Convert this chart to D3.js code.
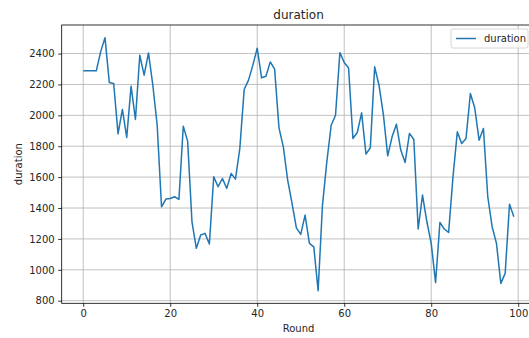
<!DOCTYPE html>
<meta charset="utf-8">
<script src="https://d3js.org/d3.v7.min.js"></script>
<style>
    body { margin: 0; background: #fff; }
    text { font-family: "DejaVu Sans", sans-serif; fill: #262626; }
    .grid line { stroke: #b0b0b0; stroke-width: 0.8; }
</style>
<body>
<svg id="chart" width="529" height="338"></svg>
<script>
// values (one per round, 0..99)
var rounds = d3.range(100);
var duration = [
  2288, 2288, 2288, 2288, 2411, 2503, 2212, 2206, 1880, 2038,
  1857, 2189, 1973, 2389, 2260, 2404, 2195, 1936, 1408, 1458,
  1462, 1473, 1456, 1930, 1833, 1311, 1139, 1225, 1236, 1167,
  1602, 1538, 1591, 1527, 1624, 1587, 1786, 2167, 2228, 2325,
  2435, 2243, 2253, 2346, 2299, 1919, 1796, 1581, 1430, 1272,
  1229, 1354, 1171, 1149, 865, 1419, 1699, 1936, 2001, 2406,
  2342, 2307, 1850, 1889, 2016, 1749, 1790, 2314, 2195, 2005,
  1738, 1861, 1943, 1775, 1695, 1883, 1844, 1264, 1484, 1311,
  1171, 917, 1307, 1264, 1242, 1600, 1893, 1818, 1850, 2141,
  2049, 1839, 1915, 1473, 1279, 1171, 912, 977, 1425, 1343
];
var yTicks = [800, 1000, 1200, 1400, 1600, 1800, 2000, 2200, 2400];
var xTicks = [0, 20, 40, 60, 80, 100];

var svg = d3.select("#chart");
var plotL = 61.7, plotR = 535.4, plotT = 25, plotB = 303.3;

// matplotlib-like 5% margins
function pad(ext) {
  var m = (ext[1] - ext[0]) * 0.05;
  return [ext[0] - m, ext[1] + m];
}

var x = d3.scaleLinear().domain(pad(d3.extent(rounds))).range([plotL, plotR]);
var y = d3.scaleLinear().domain(pad(d3.extent(duration))).range([plotB, plotT]);

// grid
var grid = svg.append("g").attr("class", "grid");
grid.selectAll(".gx").data(xTicks).enter().append("line")
  .attr("x1", d => x(d)).attr("x2", d => x(d))
  .attr("y1", plotT).attr("y2", plotB);
grid.selectAll(".gy").data(yTicks).enter().append("line")
  .attr("x1", plotL).attr("x2", plotR)
  .attr("y1", d => y(d)).attr("y2", d => y(d));

// axes
var xAxis = svg.append("g")
  .attr("transform", "translate(0," + plotB + ")")
  .call(d3.axisBottom(x).tickValues(xTicks).tickFormat(d3.format("d"))
    .tickSize(3.5).tickPadding(3.5).tickSizeOuter(0));
var yAxis = svg.append("g")
  .attr("transform", "translate(" + plotL + ",0)")
  .call(d3.axisLeft(y).tickValues(yTicks).tickFormat(d3.format("d"))
    .tickSize(3.5).tickPadding(3.5).tickSizeOuter(0));
[xAxis, yAxis].forEach(function (a) {
  a.selectAll("text").style("font-size", "10px").style("font-family", "DejaVu Sans").attr("fill", "#262626");
  a.selectAll("line").attr("stroke", "#000").attr("stroke-width", 0.8);
  a.select(".domain").remove();
});

// frame
svg.append("rect")
  .attr("x", plotL).attr("y", plotT)
  .attr("width", plotR - plotL).attr("height", plotB - plotT)
  .attr("fill", "none").attr("stroke", "#000").attr("stroke-width", 0.8);

// line
var line = d3.line().x((d, i) => x(rounds[i])).y(d => y(d));
svg.append("path")
  .datum(duration)
  .attr("d", line)
  .attr("fill", "none")
  .attr("stroke", "#1f77b4")
  .attr("stroke-width", 1.5)
  .attr("stroke-linejoin", "round");

// title and labels
svg.append("text")
  .attr("x", (plotL + plotR) / 2).attr("y", 19)
  .attr("text-anchor", "middle")
  .style("font-size", "12px")
  .text("duration");
svg.append("text")
  .attr("x", (plotL + plotR) / 2).attr("y", 332)
  .attr("text-anchor", "middle")
  .style("font-size", "10px")
  .text("Round");
svg.append("text")
  .attr("transform", "translate(22," + ((plotT + plotB) / 2) + ") rotate(-90)")
  .attr("text-anchor", "middle")
  .style("font-size", "10px")
  .text("duration");

// legend
var lg = svg.append("g").attr("transform", "translate(451,29)");
lg.append("rect")
  .attr("width", 77).attr("height", 19).attr("rx", 2)
  .attr("fill", "#fff").attr("fill-opacity", 0.8)
  .attr("stroke", "#ccc").attr("stroke-width", 0.8);
lg.append("line")
  .attr("x1", 5).attr("x2", 25).attr("y1", 9.5).attr("y2", 9.5)
  .attr("stroke", "#1f77b4").attr("stroke-width", 1.5);
lg.append("text")
  .attr("x", 33).attr("y", 13)
  .style("font-size", "10px")
  .text("duration");
</script>
</body>
